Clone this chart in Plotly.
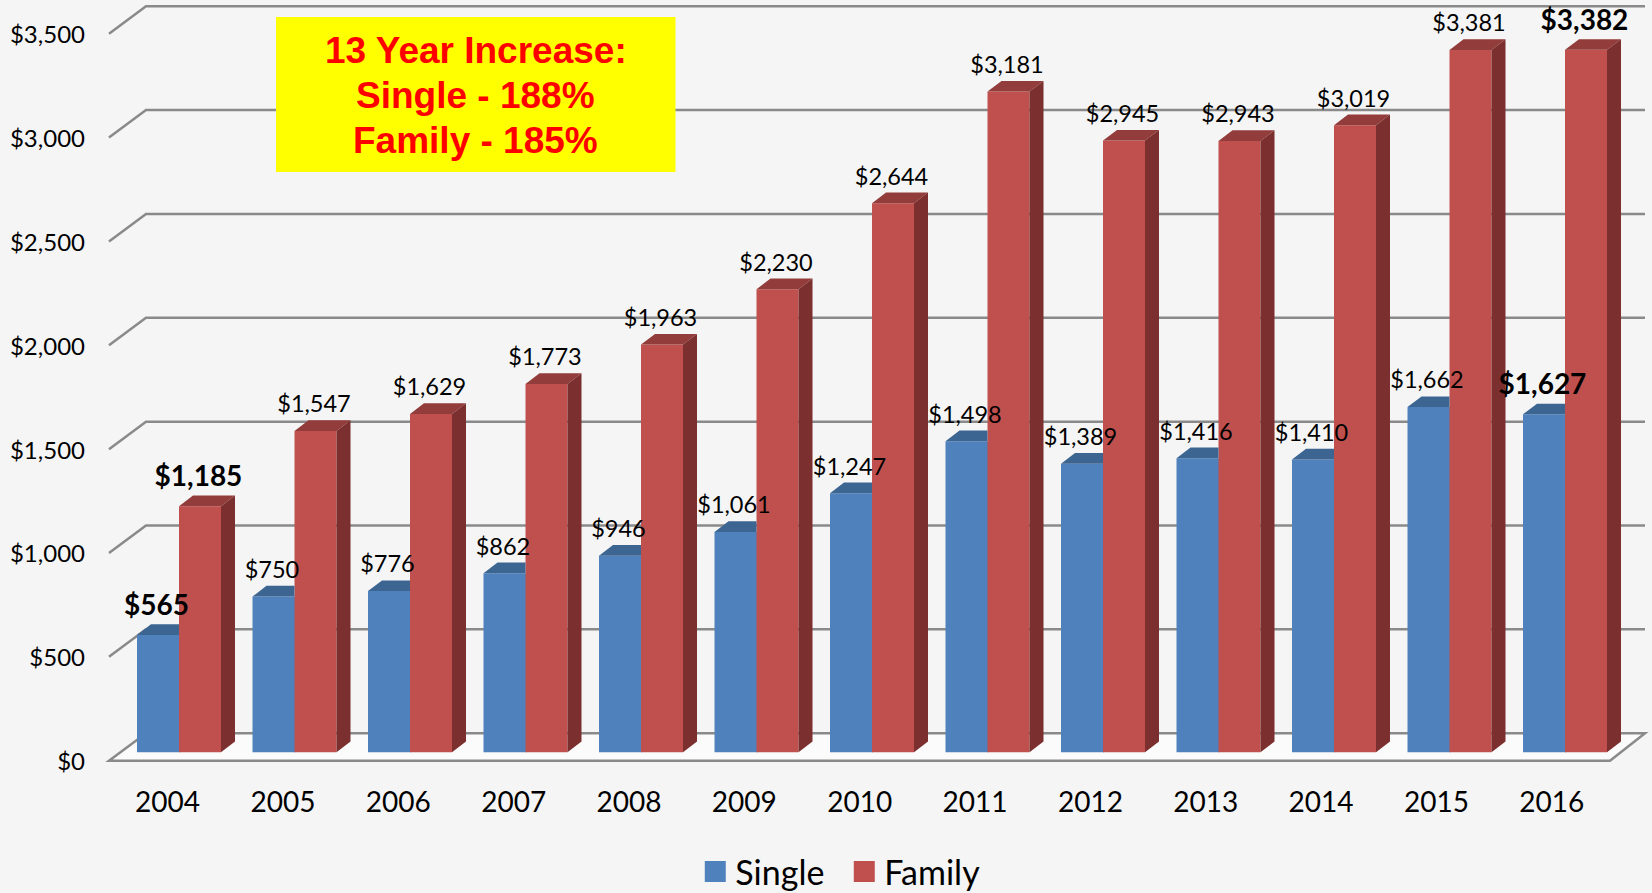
import plotly.graph_objects as go

years = [2004, 2005, 2006, 2007, 2008, 2009, 2010, 2011, 2012, 2013, 2014, 2015, 2016]
single = [565, 750, 776, 862, 946, 1061, 1247, 1498, 1389, 1416, 1410, 1662, 1627]
family = [1185, 1547, 1629, 1773, 1963, 2230, 2644, 3181, 2945, 2943, 3019, 3381, 3382]
y_ticks = [0, 500, 1000, 1500, 2000, 2500, 3000, 3500]
callout = ["13 Year Increase:", "Single - 188%", "Family - 185%"]

W, H = 1652, 893
L, B = 90, 783          # plot area in pixels
PX_PER_VAL = 0.2077
Y0_PX = 760.7
GROUP0_PX, GROUP_PX = 179.0, 115.5

def xd(px): return (px - GROUP0_PX) / GROUP_PX
def dx(px): return px / GROUP_PX
def yd(px): return (Y0_PX - px) / PX_PER_VAL
def dy(px): return px / PX_PER_VAL

BAR_W = dx(42)
BASE = dy(8.4)
DEPTH_X, DEPTH_Y = dx(14), dy(10.7)
WALL_Y = dy(27.5)
FRONT_L, BACK_L, FRONT_R, BACK_R = xd(109), xd(146), xd(1610), xd(1645)

BLUE, BLUE_TOP = "#4f81bd", "#3c6592"
RED, RED_TOP, RED_SIDE = "#c0504d", "#923d3b", "#7b2f2e"
GRID = "#8a8a8a"
BG = "#f5f5f5"
FONT = "Lato"

n = range(len(years))
fig = go.Figure()

fig.add_bar(x=list(n), y=single, base=BASE, width=BAR_W + dx(1), offset=-BAR_W,
            marker=dict(color=BLUE, line_width=0), showlegend=False, hoverinfo="skip")
fig.add_bar(x=list(n), y=family, base=BASE, width=BAR_W, offset=0,
            marker=dict(color=RED, line_width=0), showlegend=False, hoverinfo="skip")

def polys(rows, color):
    xs, ys = [], []
    for r in rows:
        xs += [p[0] for p in r] + [r[0][0], None]
        ys += [p[1] for p in r] + [r[0][1], None]
    fig.add_scatter(x=xs, y=ys, mode="lines", fill="toself", fillcolor=color,
                    line=dict(width=0), showlegend=False, hoverinfo="skip")

blue_tops = []
red_tops = []
red_sides = []
for i in n:
    t = single[i] + BASE
    blue_tops.append([(i - BAR_W, t), (i - BAR_W + DEPTH_X, t + DEPTH_Y), (i, t + DEPTH_Y), (i, t)])
    t = family[i] + BASE
    red_tops.append([(i, t), (i + DEPTH_X, t + DEPTH_Y), (i + BAR_W + DEPTH_X, t + DEPTH_Y), (i + BAR_W, t)])
    red_sides.append([(i + BAR_W, BASE), (i + BAR_W + DEPTH_X, BASE + DEPTH_Y),
                      (i + BAR_W + DEPTH_X, t + DEPTH_Y), (i + BAR_W, t)])
polys(blue_tops, BLUE_TOP)
polys(red_tops, RED_TOP)
polys(red_sides, RED_SIDE)

# Value labels
LABEL_UP = dy(24.5)
BOLD_UP = dy(27)
LABEL_LEFT = dx(1.5)
SIZE, BOLD_SIZE = 23.5, 28
def labels(values, xoff):
    ends = (0, len(values) - 1)
    fig.add_scatter(
        x=[i + xoff - LABEL_LEFT for i in n],
        y=[v + BASE + (BOLD_UP if i in ends else LABEL_UP) for i, v in enumerate(values)],
        mode="text",
        text=[f"<b>${v:,}</b>" if i in ends else f"${v:,}" for i, v in enumerate(values)],
        textposition="middle center",
        textfont=dict(family=FONT, color="#000000",
                      size=[BOLD_SIZE if i in ends else SIZE for i in n]),
        cliponaxis=False, showlegend=False, hoverinfo="skip")
labels(single, -BAR_W / 2)
labels(family, BAR_W / 2)

# Legend entries
for name, color in (("Single", BLUE), ("Family", RED)):
    fig.add_scatter(x=[None], y=[None], mode="markers", name=name,
                    marker=dict(symbol="square", size=16, color=color,
                                line=dict(color=color, width=5)))

# Walls and floor
shapes = [dict(type="path", layer="below", xref="x", yref="y", line_width=0, fillcolor="#fbfbfb",
               path=f"M{FRONT_L},0 L{BACK_L},{WALL_Y} L{BACK_R},{WALL_Y} L{FRONT_R},0 Z")]
for v in y_ticks:
    p = f"M{FRONT_L},{v} L{BACK_L},{v + WALL_Y} L{BACK_R},{v + WALL_Y}"
    if v == 0:
        p += f" L{FRONT_R},0 Z"
    shapes.append(dict(type="path", layer="below", xref="x", yref="y",
                       path=p, line=dict(color=GRID, width=2.5)))
# Callout box
shapes.append(dict(type="rect", layer="above", xref="x", yref="y",
                   x0=xd(276), x1=xd(675.5), y0=yd(17), y1=yd(172),
                   fillcolor="#ffff00", line_width=0))

callout_px = [50, 95, 140]
annotations = [dict(xref="x", yref="y", x=xd(475.5), y=yd(py), showarrow=False,
                    text=f"<b>{t}</b>", xanchor="center", yanchor="middle",
                    font=dict(family="Liberation Sans", size=37, color="#ff0000"))
               for t, py in zip(callout, callout_px)]

fig.update_layout(
    width=W, height=H, autosize=False,
    margin=dict(l=L, r=0, t=0, b=0, pad=0, autoexpand=False),
    paper_bgcolor=BG, plot_bgcolor="rgba(0,0,0,0)",
    barmode="overlay", shapes=shapes,
    font=dict(family=FONT, color="#000000"),
    xaxis=dict(range=[xd(L), xd(W)], showgrid=False, zeroline=False, showline=False,
               tickmode="array", tickvals=[i * 115.35 / GROUP_PX + xd(167.6) for i in n],
               ticktext=[str(y) for y in years], ticks="", tickfont=dict(size=28, family=FONT)),
    yaxis=dict(domain=[(H - B) / H, 1], range=[yd(B), yd(0)], showgrid=False, zeroline=False, showline=False,
               tickmode="array", tickvals=y_ticks, ticktext=[f"${v:,}" for v in y_ticks],
               ticks="", ticklabelstandoff=4, ticklabelshift=1, tickfont=dict(size=24, family=FONT)),
    legend=dict(orientation="h", xref="paper", yref="paper", x=0.3875, y=(H - 872) / H,
                xanchor="left", yanchor="middle", bgcolor="rgba(0,0,0,0)",
                entrywidth=104, entrywidthmode="pixels",
                font=dict(size=34, family=FONT), itemclick=False, itemdoubleclick=False),
    annotations=annotations,
)

fig.write_html("out.html", config={"displayModeBar": False},
               post_script="document.body.style.margin='0';document.body.style.background='#f5f5f5';")
